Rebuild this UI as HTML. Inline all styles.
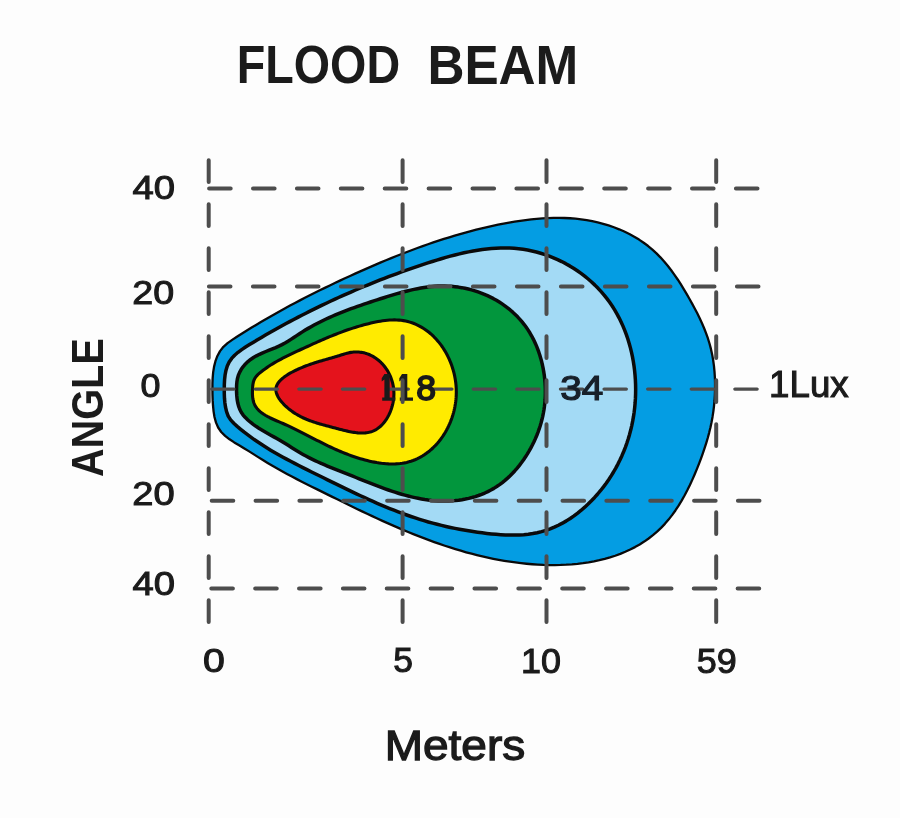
<!DOCTYPE html>
<html><head><meta charset="utf-8"><title>Flood Beam</title>
<style>html,body{margin:0;padding:0;background:#fdfdfd;}svg{display:block;will-change:transform}</style></head>
<body><svg width="900" height="818" viewBox="0 0 900 818">
<defs><clipPath id="gv"><rect x="0" y="150" width="900" height="475.5"/></clipPath>
<clipPath id="gh"><rect x="0" y="0" width="762" height="818"/></clipPath></defs>
<rect width="900" height="818" fill="#fdfdfd"/>
<path d="M212.42,389.06 L212.46,383.44 L212.68,377.80 L213.18,372.18 L214.07,366.62 L215.44,361.18 L217.40,355.95 L220.02,351.09 L223.42,346.80 L227.56,343.15 L232.15,339.91 L236.90,336.82 L241.66,333.78 L246.43,330.79 L251.22,327.83 L256.03,324.92 L260.85,322.05 L265.68,319.21 L270.53,316.42 L275.39,313.66 L280.27,310.93 L285.16,308.24 L290.06,305.59 L294.98,302.96 L299.91,300.37 L304.86,297.81 L309.83,295.28 L314.80,292.78 L319.80,290.30 L324.80,287.85 L329.82,285.43 L334.86,283.02 L339.91,280.65 L344.97,278.29 L350.05,275.96 L355.15,273.64 L360.26,271.35 L365.38,269.08 L370.52,266.84 L375.67,264.62 L380.84,262.43 L386.02,260.27 L391.22,258.14 L396.43,256.05 L401.65,253.99 L406.89,251.96 L412.15,249.98 L417.41,248.03 L422.69,246.13 L427.99,244.26 L433.30,242.45 L438.62,240.68 L443.96,238.95 L449.31,237.28 L454.68,235.66 L460.06,234.09 L465.45,232.57 L470.86,231.11 L476.28,229.71 L481.71,228.37 L487.16,227.09 L492.62,225.87 L498.10,224.72 L503.59,223.63 L509.09,222.61 L514.60,221.67 L520.13,220.81 L525.66,220.04 L531.20,219.37 L536.75,218.81 L542.30,218.38 L547.85,218.06 L553.41,217.89 L558.96,217.86 L564.52,217.98 L570.07,218.27 L575.61,218.72 L581.15,219.35 L586.68,220.18 L592.20,221.20 L597.69,222.41 L603.15,223.83 L608.55,225.45 L613.89,227.28 L619.14,229.32 L624.30,231.57 L629.34,234.03 L634.26,236.70 L639.04,239.59 L643.67,242.71 L648.13,246.04 L652.40,249.60 L656.49,253.38 L660.40,257.35 L664.15,261.50 L667.74,265.81 L671.19,270.25 L674.50,274.82 L677.69,279.48 L680.76,284.22 L683.73,289.02 L686.60,293.86 L689.39,298.72 L692.10,303.59 L694.73,308.45 L697.27,313.34 L699.69,318.26 L701.98,323.22 L704.13,328.24 L706.12,333.32 L707.93,338.49 L709.56,343.76 L710.98,349.13 L712.19,354.63 L713.17,360.23 L713.95,365.92 L714.51,371.68 L714.88,377.46 L715.06,383.26 L715.06,389.05 L714.87,394.80 L714.52,400.48 L714.00,406.08 L713.33,411.58 L712.51,416.95 L711.54,422.23 L710.43,427.44 L709.19,432.59 L707.81,437.71 L706.30,442.82 L704.67,447.94 L702.91,453.10 L701.04,458.31 L699.05,463.59 L696.95,468.92 L694.72,474.28 L692.37,479.64 L689.90,484.98 L687.28,490.27 L684.53,495.49 L681.64,500.62 L678.60,505.61 L675.41,510.46 L672.07,515.14 L668.56,519.62 L664.90,523.87 L661.07,527.88 L657.08,531.65 L652.93,535.19 L648.65,538.50 L644.22,541.59 L639.67,544.46 L634.99,547.12 L630.20,549.57 L625.30,551.81 L620.30,553.87 L615.20,555.73 L610.02,557.40 L604.75,558.89 L599.41,560.21 L594.01,561.36 L588.55,562.34 L583.03,563.16 L577.47,563.83 L571.87,564.35 L566.25,564.72 L560.60,564.96 L554.93,565.06 L549.25,565.03 L543.57,564.89 L537.90,564.62 L532.24,564.24 L526.60,563.76 L520.98,563.17 L515.39,562.48 L509.82,561.70 L504.28,560.82 L498.76,559.85 L493.27,558.79 L487.80,557.65 L482.35,556.42 L476.93,555.11 L471.52,553.73 L466.14,552.27 L460.77,550.73 L455.43,549.13 L450.11,547.46 L444.80,545.72 L439.51,543.93 L434.25,542.07 L428.99,540.16 L423.76,538.19 L418.54,536.17 L413.34,534.11 L408.15,531.99 L402.97,529.84 L397.81,527.64 L392.67,525.41 L387.53,523.14 L382.41,520.84 L377.30,518.50 L372.20,516.15 L367.12,513.76 L362.04,511.36 L356.97,508.93 L351.92,506.49 L346.87,504.03 L341.83,501.57 L336.79,499.09 L331.77,496.61 L326.75,494.12 L321.73,491.64 L316.73,489.15 L311.73,486.67 L306.74,484.18 L301.76,481.67 L296.80,479.13 L291.87,476.57 L286.95,473.96 L282.07,471.31 L277.21,468.61 L272.40,465.85 L267.61,463.01 L262.87,460.10 L258.16,457.13 L253.46,454.13 L248.73,451.13 L243.95,448.18 L239.10,445.30 L234.24,442.41 L229.53,439.33 L225.12,435.91 L221.22,432.00 L218.13,427.48 L215.94,422.41 L214.48,416.97 L213.57,411.37 L213.02,405.72 L212.68,400.15 L212.49,394.61Z" fill="#049de3" stroke="#0a0a0a" stroke-width="2.3" stroke-linejoin="round"/><path d="M224.27,389.31 L224.33,384.61 L224.57,379.80 L225.08,375.03 L225.95,370.39 L227.29,366.01 L229.19,362.01 L231.68,358.43 L234.67,355.21 L238.04,352.29 L241.71,349.59 L245.57,347.05 L249.53,344.59 L253.51,342.17 L257.50,339.78 L261.49,337.41 L265.50,335.08 L269.51,332.77 L273.53,330.49 L277.56,328.23 L281.59,326.00 L285.63,323.80 L289.68,321.63 L293.73,319.48 L297.79,317.36 L301.85,315.26 L305.91,313.19 L309.99,311.15 L314.06,309.13 L318.14,307.13 L322.22,305.16 L326.31,303.22 L330.40,301.29 L334.50,299.39 L338.60,297.52 L342.71,295.67 L346.82,293.84 L350.95,292.03 L355.09,290.25 L359.23,288.48 L363.39,286.74 L367.57,285.02 L371.75,283.32 L375.95,281.63 L380.17,279.97 L384.40,278.33 L388.65,276.71 L392.92,275.10 L397.21,273.52 L401.52,271.95 L405.85,270.40 L410.20,268.87 L414.58,267.35 L418.98,265.85 L423.40,264.37 L427.85,262.91 L432.31,261.47 L436.80,260.08 L441.31,258.72 L445.83,257.42 L450.36,256.17 L454.91,254.98 L459.46,253.87 L464.02,252.82 L468.59,251.87 L473.16,251.00 L477.73,250.23 L482.30,249.56 L486.87,249.00 L491.43,248.56 L495.99,248.25 L500.53,248.06 L505.07,248.01 L509.59,248.11 L514.10,248.35 L518.59,248.76 L523.07,249.33 L527.52,250.06 L531.94,250.96 L536.33,252.02 L540.68,253.23 L544.99,254.60 L549.25,256.12 L553.46,257.79 L557.61,259.60 L561.70,261.56 L565.73,263.65 L569.68,265.89 L573.55,268.25 L577.34,270.75 L581.05,273.38 L584.66,276.13 L588.17,279.00 L591.59,282.00 L594.89,285.11 L598.09,288.33 L601.16,291.67 L604.12,295.11 L606.95,298.66 L609.64,302.31 L612.20,306.06 L614.63,309.90 L616.92,313.84 L619.07,317.85 L621.09,321.95 L622.98,326.11 L624.73,330.35 L626.35,334.65 L627.84,339.00 L629.19,343.41 L630.42,347.86 L631.51,352.36 L632.48,356.89 L633.32,361.45 L634.02,366.03 L634.60,370.64 L635.05,375.26 L635.38,379.89 L635.58,384.53 L635.65,389.17 L635.60,393.79 L635.42,398.41 L635.12,403.01 L634.69,407.59 L634.14,412.14 L633.47,416.67 L632.67,421.16 L631.76,425.61 L630.72,430.03 L629.56,434.42 L628.28,438.76 L626.87,443.05 L625.35,447.31 L623.70,451.51 L621.93,455.67 L620.05,459.77 L618.04,463.82 L615.91,467.81 L613.66,471.75 L611.30,475.62 L608.81,479.43 L606.21,483.18 L603.48,486.86 L600.64,490.47 L597.68,494.00 L594.61,497.45 L591.43,500.80 L588.14,504.06 L584.75,507.20 L581.25,510.21 L577.66,513.10 L573.98,515.85 L570.21,518.45 L566.35,520.88 L562.41,523.15 L558.38,525.24 L554.29,527.15 L550.11,528.86 L545.87,530.36 L541.56,531.64 L537.19,532.71 L532.77,533.55 L528.29,534.20 L523.77,534.66 L519.21,534.94 L514.62,535.07 L510.01,535.06 L505.38,534.92 L500.75,534.67 L496.10,534.32 L491.47,533.89 L486.84,533.39 L482.23,532.83 L477.64,532.22 L473.07,531.56 L468.51,530.85 L463.97,530.08 L459.45,529.26 L454.95,528.38 L450.47,527.44 L446.01,526.46 L441.57,525.41 L437.14,524.31 L432.74,523.15 L428.35,521.94 L423.99,520.67 L419.65,519.34 L415.33,517.95 L411.02,516.51 L406.74,515.01 L402.47,513.46 L398.22,511.87 L393.99,510.23 L389.77,508.55 L385.56,506.82 L381.37,505.06 L377.19,503.27 L373.02,501.44 L368.86,499.58 L364.70,497.69 L360.56,495.77 L356.42,493.83 L352.29,491.88 L348.17,489.90 L344.04,487.91 L339.93,485.90 L335.81,483.89 L331.69,481.86 L327.58,479.83 L323.46,477.80 L319.34,475.77 L315.22,473.73 L311.11,471.70 L306.99,469.65 L302.88,467.59 L298.79,465.52 L294.70,463.42 L290.64,461.30 L286.59,459.15 L282.56,456.96 L278.56,454.73 L274.59,452.46 L270.66,450.14 L266.76,447.76 L262.89,445.33 L259.07,442.84 L255.29,440.28 L251.56,437.65 L247.89,434.94 L244.26,432.16 L240.70,429.28 L237.19,426.33 L233.76,423.26 L230.65,419.93 L228.22,416.08 L226.57,411.72 L225.52,407.15 L224.86,402.65 L224.47,398.25 L224.30,393.84Z" fill="#a3daf5" stroke="#0a0a0a" stroke-width="3.5" stroke-linejoin="round"/><path d="M236.54,388.92 L236.61,385.44 L236.87,382.02 L237.40,378.68 L238.30,375.44 L239.60,372.32 L241.25,369.35 L243.22,366.56 L245.47,363.96 L247.95,361.58 L250.62,359.45 L253.46,357.55 L256.44,355.84 L259.52,354.29 L262.69,352.86 L265.91,351.51 L269.17,350.20 L272.43,348.89 L275.67,347.55 L278.87,346.13 L281.99,344.60 L285.03,342.95 L288.00,341.19 L290.91,339.36 L293.79,337.49 L296.65,335.60 L299.50,333.72 L302.37,331.88 L305.26,330.10 L308.18,328.37 L311.11,326.70 L314.07,325.07 L317.05,323.50 L320.05,321.97 L323.07,320.48 L326.11,319.04 L329.17,317.64 L332.24,316.27 L335.34,314.94 L338.46,313.64 L341.59,312.37 L344.74,311.13 L347.91,309.92 L351.09,308.73 L354.29,307.57 L357.50,306.42 L360.73,305.30 L363.98,304.18 L367.24,303.09 L370.51,302.00 L373.79,300.93 L377.09,299.86 L380.40,298.79 L383.72,297.74 L387.06,296.69 L390.40,295.66 L393.75,294.65 L397.12,293.66 L400.49,292.71 L403.87,291.80 L407.25,290.94 L410.64,290.12 L414.04,289.37 L417.44,288.67 L420.84,288.04 L424.25,287.48 L427.66,287.01 L431.07,286.62 L434.48,286.32 L437.90,286.11 L441.31,286.01 L444.72,286.02 L448.13,286.13 L451.53,286.35 L454.92,286.68 L458.29,287.11 L461.65,287.65 L464.98,288.30 L468.29,289.05 L471.58,289.90 L474.83,290.85 L478.05,291.91 L481.23,293.06 L484.37,294.32 L487.46,295.67 L490.51,297.12 L493.51,298.67 L496.45,300.32 L499.33,302.06 L502.15,303.89 L504.91,305.82 L507.59,307.85 L510.21,309.96 L512.75,312.17 L515.21,314.47 L517.60,316.85 L519.89,319.33 L522.10,321.90 L524.21,324.55 L526.24,327.29 L528.16,330.11 L529.98,333.02 L531.69,336.01 L533.31,339.08 L534.82,342.21 L536.23,345.40 L537.53,348.65 L538.74,351.95 L539.84,355.29 L540.84,358.66 L541.75,362.07 L542.55,365.49 L543.25,368.94 L543.85,372.39 L544.35,375.85 L544.75,379.31 L545.06,382.75 L545.26,386.19 L545.37,389.60 L545.38,393.00 L545.29,396.38 L545.10,399.75 L544.82,403.09 L544.44,406.42 L543.96,409.73 L543.39,413.02 L542.72,416.29 L541.96,419.54 L541.10,422.78 L540.15,425.99 L539.11,429.17 L537.97,432.34 L536.74,435.49 L535.42,438.61 L534.00,441.71 L532.49,444.79 L530.89,447.84 L529.20,450.87 L527.42,453.86 L525.56,456.81 L523.60,459.71 L521.56,462.56 L519.44,465.35 L517.23,468.07 L514.94,470.71 L512.58,473.28 L510.13,475.75 L507.60,478.13 L505.00,480.41 L502.33,482.58 L499.58,484.64 L496.75,486.57 L493.86,488.38 L490.90,490.05 L487.88,491.60 L484.80,493.03 L481.67,494.33 L478.49,495.51 L475.26,496.57 L472.00,497.52 L468.70,498.35 L465.38,499.06 L462.02,499.66 L458.65,500.16 L455.27,500.54 L451.87,500.83 L448.47,501.00 L445.07,501.08 L441.67,501.05 L438.29,500.93 L434.90,500.71 L431.53,500.40 L428.17,500.01 L424.81,499.53 L421.46,498.97 L418.13,498.34 L414.79,497.64 L411.47,496.88 L408.15,496.05 L404.84,495.16 L401.54,494.22 L398.24,493.22 L394.96,492.18 L391.67,491.10 L388.40,489.98 L385.13,488.82 L381.87,487.63 L378.61,486.42 L375.36,485.18 L372.12,483.92 L368.88,482.65 L365.64,481.37 L362.42,480.08 L359.19,478.79 L355.97,477.50 L352.76,476.21 L349.55,474.93 L346.35,473.66 L343.15,472.40 L339.97,471.14 L336.79,469.88 L333.62,468.61 L330.47,467.33 L327.33,466.03 L324.21,464.71 L321.11,463.36 L318.03,461.98 L314.97,460.56 L311.93,459.10 L308.92,457.60 L305.94,456.04 L302.98,454.42 L300.06,452.75 L297.16,451.01 L294.29,449.23 L291.42,447.42 L288.55,445.60 L285.67,443.79 L282.75,442.00 L279.80,440.26 L276.81,438.55 L273.80,436.87 L270.78,435.19 L267.76,433.51 L264.76,431.79 L261.79,430.03 L258.86,428.21 L255.99,426.31 L253.19,424.32 L250.46,422.21 L247.84,419.98 L245.36,417.59 L243.12,415.03 L241.23,412.25 L239.72,409.27 L238.57,406.11 L237.72,402.81 L237.13,399.41 L236.77,395.94 L236.58,392.43Z" fill="#02963d" stroke="#0a0a0a" stroke-width="3.5" stroke-linejoin="round"/><path d="M252.51,388.89 L252.67,386.55 L252.94,384.27 L253.37,382.08 L254.04,380.00 L254.99,378.07 L256.26,376.30 L257.82,374.69 L259.54,373.17 L261.32,371.72 L263.14,370.31 L264.99,368.94 L266.87,367.61 L268.78,366.32 L270.71,365.07 L272.67,363.85 L274.65,362.66 L276.65,361.51 L278.67,360.38 L280.70,359.28 L282.75,358.21 L284.81,357.15 L286.87,356.12 L288.94,355.11 L291.01,354.11 L293.09,353.12 L295.16,352.15 L297.24,351.19 L299.30,350.23 L301.36,349.28 L303.41,348.34 L305.46,347.40 L307.49,346.47 L309.52,345.54 L311.55,344.62 L313.57,343.70 L315.60,342.80 L317.62,341.90 L319.64,341.00 L321.66,340.12 L323.68,339.25 L325.71,338.38 L327.74,337.52 L329.78,336.68 L331.82,335.84 L333.87,335.02 L335.93,334.21 L337.99,333.40 L340.07,332.61 L342.16,331.84 L344.27,331.07 L346.39,330.32 L348.52,329.58 L350.67,328.86 L352.83,328.15 L355.02,327.46 L357.22,326.78 L359.44,326.12 L361.69,325.47 L363.95,324.84 L366.25,324.23 L368.56,323.63 L370.89,323.07 L373.23,322.53 L375.59,322.03 L377.95,321.57 L380.32,321.16 L382.68,320.80 L385.05,320.49 L387.40,320.24 L389.75,320.06 L392.08,319.95 L394.40,319.91 L396.69,319.96 L398.96,320.09 L401.20,320.31 L403.41,320.63 L405.59,321.03 L407.74,321.53 L409.85,322.12 L411.93,322.79 L413.98,323.54 L415.98,324.38 L417.95,325.29 L419.88,326.28 L421.78,327.35 L423.63,328.49 L425.44,329.69 L427.21,330.97 L428.93,332.31 L430.62,333.72 L432.25,335.19 L433.85,336.72 L435.39,338.30 L436.89,339.94 L438.34,341.64 L439.74,343.38 L441.10,345.17 L442.40,347.01 L443.64,348.90 L444.84,350.82 L445.98,352.79 L447.07,354.79 L448.10,356.83 L449.08,358.91 L449.99,361.01 L450.85,363.14 L451.65,365.30 L452.39,367.49 L453.07,369.70 L453.69,371.93 L454.25,374.17 L454.74,376.44 L455.16,378.71 L455.52,381.00 L455.82,383.30 L456.04,385.61 L456.20,387.92 L456.29,390.23 L456.31,392.55 L456.26,394.86 L456.14,397.17 L455.95,399.48 L455.69,401.78 L455.36,404.07 L454.97,406.34 L454.52,408.61 L454.00,410.85 L453.42,413.08 L452.77,415.29 L452.06,417.48 L451.30,419.64 L450.47,421.78 L449.58,423.89 L448.64,425.97 L447.64,428.01 L446.58,430.02 L445.47,431.99 L444.30,433.93 L443.08,435.82 L441.81,437.67 L440.48,439.48 L439.11,441.24 L437.68,442.95 L436.21,444.60 L434.68,446.21 L433.11,447.75 L431.50,449.24 L429.84,450.67 L428.13,452.04 L426.38,453.35 L424.59,454.58 L422.75,455.75 L420.88,456.85 L418.96,457.88 L417.01,458.83 L415.02,459.71 L412.99,460.50 L410.92,461.22 L408.82,461.85 L406.68,462.40 L404.51,462.86 L402.31,463.23 L400.08,463.53 L397.82,463.74 L395.54,463.88 L393.24,463.94 L390.92,463.94 L388.58,463.86 L386.23,463.72 L383.87,463.51 L381.50,463.25 L379.13,462.93 L376.76,462.56 L374.38,462.13 L372.01,461.66 L369.64,461.14 L367.28,460.58 L364.93,459.97 L362.60,459.34 L360.28,458.66 L357.98,457.96 L355.70,457.23 L353.44,456.47 L351.21,455.69 L349.01,454.88 L346.84,454.07 L344.70,453.23 L342.59,452.38 L340.51,451.51 L338.45,450.63 L336.41,449.74 L334.39,448.84 L332.39,447.92 L330.41,446.99 L328.44,446.05 L326.48,445.11 L324.54,444.15 L322.61,443.19 L320.68,442.22 L318.76,441.24 L316.84,440.26 L314.93,439.28 L313.01,438.29 L311.10,437.29 L309.18,436.30 L307.25,435.30 L305.32,434.30 L303.37,433.31 L301.42,432.31 L299.45,431.32 L297.47,430.33 L295.47,429.34 L293.45,428.35 L291.41,427.38 L289.35,426.40 L287.27,425.43 L285.16,424.48 L283.02,423.52 L280.85,422.58 L278.65,421.64 L276.44,420.70 L274.23,419.75 L272.04,418.76 L269.89,417.74 L267.78,416.66 L265.73,415.52 L263.77,414.30 L261.90,412.99 L260.14,411.59 L258.51,410.07 L257.03,408.43 L255.73,406.66 L254.65,404.75 L253.82,402.71 L253.20,400.55 L252.78,398.31 L252.53,395.99 L252.42,393.63 L252.42,391.26Z" fill="#ffeb00" stroke="#0a0a0a" stroke-width="3.1" stroke-linejoin="round"/><path d="M275.91,388.88 L276.04,387.84 L276.27,386.83 L276.61,385.83 L277.05,384.85 L277.57,383.88 L278.19,382.93 L278.89,382.00 L279.66,381.09 L280.51,380.19 L281.42,379.31 L282.39,378.45 L283.43,377.61 L284.51,376.79 L285.64,375.98 L286.82,375.20 L288.03,374.43 L289.27,373.68 L290.54,372.95 L291.84,372.25 L293.15,371.56 L294.47,370.89 L295.80,370.24 L297.13,369.62 L298.46,369.01 L299.78,368.43 L301.09,367.87 L302.38,367.32 L303.66,366.80 L304.93,366.30 L306.19,365.81 L307.43,365.35 L308.67,364.89 L309.90,364.45 L311.11,364.03 L312.33,363.62 L313.53,363.22 L314.73,362.83 L315.93,362.45 L317.13,362.07 L318.32,361.71 L319.51,361.35 L320.69,361.00 L321.88,360.65 L323.07,360.30 L324.26,359.96 L325.46,359.62 L326.66,359.28 L327.86,358.94 L329.07,358.59 L330.29,358.24 L331.51,357.89 L332.74,357.54 L333.98,357.18 L335.23,356.81 L336.49,356.43 L337.76,356.05 L339.05,355.65 L340.35,355.24 L341.66,354.83 L342.99,354.41 L344.32,354.01 L345.65,353.62 L346.99,353.25 L348.33,352.92 L349.67,352.63 L350.99,352.39 L352.32,352.21 L353.63,352.07 L354.94,351.99 L356.23,351.96 L357.52,351.99 L358.79,352.06 L360.05,352.18 L361.30,352.34 L362.54,352.56 L363.77,352.82 L364.98,353.12 L366.17,353.47 L367.35,353.87 L368.51,354.30 L369.66,354.78 L370.79,355.29 L371.90,355.85 L372.99,356.44 L374.06,357.07 L375.11,357.74 L376.14,358.45 L377.15,359.19 L378.14,359.96 L379.10,360.76 L380.04,361.60 L380.95,362.47 L381.84,363.37 L382.70,364.30 L383.54,365.26 L384.35,366.25 L385.13,367.26 L385.89,368.30 L386.61,369.36 L387.30,370.45 L387.97,371.56 L388.60,372.69 L389.20,373.85 L389.77,375.02 L390.30,376.21 L390.80,377.43 L391.27,378.66 L391.70,379.90 L392.09,381.17 L392.45,382.44 L392.77,383.73 L393.05,385.04 L393.30,386.35 L393.50,387.68 L393.67,389.02 L393.79,390.37 L393.87,391.72 L393.91,393.09 L393.91,394.46 L393.86,395.83 L393.77,397.21 L393.64,398.59 L393.47,399.98 L393.25,401.36 L393.00,402.73 L392.70,404.10 L392.37,405.46 L392.00,406.81 L391.59,408.15 L391.14,409.47 L390.66,410.78 L390.15,412.07 L389.59,413.34 L389.01,414.59 L388.39,415.81 L387.74,417.01 L387.05,418.17 L386.34,419.31 L385.60,420.42 L384.82,421.49 L384.02,422.52 L383.18,423.52 L382.32,424.47 L381.44,425.39 L380.52,426.25 L379.58,427.07 L378.62,427.85 L377.63,428.57 L376.62,429.24 L375.59,429.85 L374.53,430.41 L373.45,430.91 L372.35,431.35 L371.23,431.74 L370.09,432.07 L368.94,432.35 L367.77,432.58 L366.58,432.76 L365.37,432.90 L364.15,432.99 L362.92,433.04 L361.67,433.05 L360.41,433.02 L359.14,432.95 L357.86,432.86 L356.57,432.73 L355.27,432.57 L353.96,432.38 L352.65,432.17 L351.33,431.94 L350.01,431.68 L348.68,431.41 L347.34,431.12 L346.01,430.81 L344.67,430.49 L343.33,430.16 L341.99,429.82 L340.65,429.48 L339.32,429.13 L337.98,428.78 L336.65,428.42 L335.32,428.07 L334.00,427.72 L332.69,427.38 L331.37,427.04 L330.07,426.69 L328.77,426.35 L327.47,426.01 L326.18,425.67 L324.90,425.33 L323.62,424.98 L322.35,424.63 L321.09,424.27 L319.83,423.91 L318.57,423.54 L317.33,423.17 L316.09,422.78 L314.85,422.39 L313.62,421.98 L312.40,421.57 L311.19,421.14 L309.98,420.70 L308.78,420.24 L307.59,419.77 L306.40,419.29 L305.22,418.78 L304.05,418.26 L302.88,417.72 L301.72,417.16 L300.57,416.58 L299.43,415.98 L298.30,415.36 L297.17,414.71 L296.05,414.04 L294.94,413.34 L293.83,412.62 L292.74,411.87 L291.65,411.10 L290.57,410.29 L289.50,409.45 L288.44,408.59 L287.38,407.69 L286.34,406.76 L285.32,405.81 L284.32,404.83 L283.35,403.83 L282.41,402.80 L281.51,401.76 L280.66,400.71 L279.86,399.64 L279.12,398.57 L278.44,397.49 L277.83,396.40 L277.29,395.31 L276.83,394.22 L276.46,393.13 L276.17,392.06 L275.98,390.98 L275.89,389.92Z" fill="#e4131c" stroke="#0a0a0a" stroke-width="3.1" stroke-linejoin="round"/>
<g clip-path="url(#gh)"><line x1="209.10" y1="188.5" x2="780" y2="188.5" stroke="#4d4d4d" stroke-width="4.0" stroke-dasharray="21.60 22.30" stroke-linecap="round"/><line x1="208.90" y1="286.4" x2="780" y2="286.4" stroke="#4d4d4d" stroke-width="4.0" stroke-dasharray="21.60 22.40" stroke-linecap="round"/><line x1="211.65" y1="389.1" x2="780" y2="389.1" stroke="#4d4d4d" stroke-width="3.3" stroke-dasharray="22.30 21.30" stroke-linecap="round"/><line x1="211.70" y1="500.7" x2="780" y2="500.7" stroke="#4d4d4d" stroke-width="4.0" stroke-dasharray="21.60 22.25" stroke-linecap="round"/><line x1="211.30" y1="588.5" x2="780" y2="588.5" stroke="#4d4d4d" stroke-width="4.0" stroke-dasharray="21.60 22.26" stroke-linecap="round"/></g>
<text transform="matrix(0.3870 0 0 0.3560 560.33 399.83)" font-size="100" font-family="Liberation Sans" fill="#17202a" stroke="#17202a" stroke-width="3.5">34</text><text transform="matrix(0.3558 0 0 0.3520 416.19 399.54)" font-size="100" font-family="Liberation Sans" fill="#1a1a1a" stroke="#1a1a1a" stroke-width="5">8</text><path d="M402.0,374.0 L407.3,374.0 L407.3,397.6 L413.0,397.6 L413.0,400.7 L399.8,400.7 L399.8,397.6 L402.0,397.6 L402.0,379.5 L399.3,381.6 L399.3,378.2Z" fill="#1a1a1a"/><path d="M384.4,374.0 L389.7,374.0 L389.7,397.6 L395.4,397.6 L395.4,400.7 L382.2,400.7 L382.2,397.6 L384.4,397.6 L384.4,379.5 L381.7,381.6 L381.7,378.2Z" fill="#1a1a1a"/>
<g clip-path="url(#gv)"><line x1="208.7" y1="160.3" x2="208.7" y2="640" stroke="#4d4d4d" stroke-width="4.0" stroke-dasharray="21.6 22.4" stroke-linecap="round"/><line x1="402.6" y1="160.3" x2="402.6" y2="640" stroke="#4d4d4d" stroke-width="4.0" stroke-dasharray="21.6 22.4" stroke-linecap="round"/><line x1="546.5" y1="160.3" x2="546.5" y2="640" stroke="#4d4d4d" stroke-width="4.0" stroke-dasharray="21.6 22.4" stroke-linecap="round"/><line x1="716.2" y1="160.3" x2="716.2" y2="640" stroke="#4d4d4d" stroke-width="4.0" stroke-dasharray="21.6 22.4" stroke-linecap="round"/></g>
<text transform="matrix(0.4667 0 0 0.5324 236.83 83.37)" font-size="100" font-family="Liberation Sans" font-weight="bold" fill="#1b1b1b">FLOOD</text><text transform="matrix(0.5125 0 0 0.5507 427.41 84.00)" font-size="100" font-family="Liberation Sans" font-weight="bold" fill="#1b1b1b">BEAM</text><text transform="matrix(0.3824 0 0 0.3411 132.52 199.02)" font-size="100" font-family="Liberation Sans" fill="#1b1b1b" stroke="#1b1b1b" stroke-width="3">40</text><text transform="matrix(0.3762 0 0 0.3384 132.30 303.92)" font-size="100" font-family="Liberation Sans" fill="#1b1b1b" stroke="#1b1b1b" stroke-width="3">20</text><text transform="matrix(0.3588 0 0 0.3356 140.58 397.03)" font-size="100" font-family="Liberation Sans" fill="#1b1b1b" stroke="#1b1b1b" stroke-width="3">0</text><text transform="matrix(0.3810 0 0 0.3411 132.28 505.32)" font-size="100" font-family="Liberation Sans" fill="#1b1b1b" stroke="#1b1b1b" stroke-width="3">20</text><text transform="matrix(0.3824 0 0 0.3342 132.52 595.33)" font-size="100" font-family="Liberation Sans" fill="#1b1b1b" stroke="#1b1b1b" stroke-width="3">40</text><text transform="matrix(0.3922 0 0 0.3397 203.12 671.62)" font-size="100" font-family="Liberation Sans" fill="#1b1b1b" stroke="#1b1b1b" stroke-width="3">0</text><text transform="matrix(0.3549 0 0 0.3444 393.29 671.61)" font-size="100" font-family="Liberation Sans" fill="#1b1b1b" stroke="#1b1b1b" stroke-width="3">5</text><text transform="matrix(0.3592 0 0 0.3452 520.94 672.51)" font-size="100" font-family="Liberation Sans" fill="#1b1b1b" stroke="#1b1b1b" stroke-width="3">10</text><text transform="matrix(0.3594 0 0 0.3452 696.68 672.51)" font-size="100" font-family="Liberation Sans" fill="#1b1b1b" stroke="#1b1b1b" stroke-width="3">59</text><text transform="matrix(0.4595 0 0 0.4264 384.78 759.55)" font-size="100" font-family="Liberation Sans" fill="#1b1b1b" stroke="#1b1b1b" stroke-width="3">Meters</text><text transform="matrix(0 -0.3971 0.4394 0 103.26 477.09)" font-size="100" font-family="Liberation Sans" font-weight="bold" fill="#1b1b1b">ANGLE</text><text transform="matrix(0.3670 0 0 0.3667 769.10 397.37)" font-size="100" font-family="Liberation Sans" fill="#1b1b1b" stroke="#1b1b1b" stroke-width="3">1Lux</text>
</svg></body></html>
